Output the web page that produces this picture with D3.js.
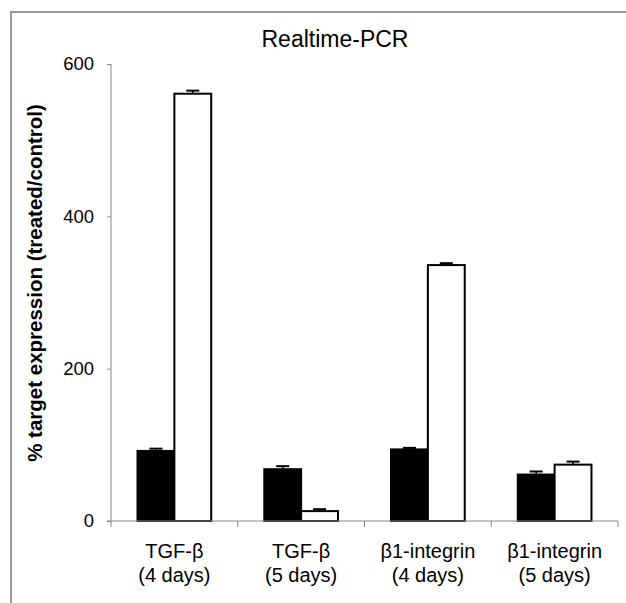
<!DOCTYPE html>
<html lang="en">
	<head>
		<meta charset="utf-8">
		<title>Realtime-PCR</title>
		<script src="https://d3js.org/d3.v7.min.js"></script>
		<style type="text/css">
			body { margin: 0; background: #fff; }
			text { font-family: "Liberation Sans", Arial, Helvetica, sans-serif; fill: #000; }
		</style>
	</head>

	<body>
		<script type="text/javascript">
			// window setup
			var w = 626
			var h = 603

			// data
			var categories = ["TGF-β|(4 days)", "TGF-β|(5 days)", "β1-integrin|(4 days)", "β1-integrin|(5 days)"]
			var series = ["black", "white"]
			var blackValues = [92, 68, 94, 61]
			var blackErrors = [3, 4, 2, 4]
			var whiteValues = [561, 13, 336, 74]
			var whiteErrors = [4, 2.5, 2.5, 4]
			var yTicks = [0, 200, 400, 600]

			// rows for drawing
			var rows = []
			categories.forEach(function(c, i) {
				rows.push({ cat: c, s: "black", v: blackValues[i], e: blackErrors[i] })
				rows.push({ cat: c, s: "white", v: whiteValues[i], e: whiteErrors[i] })
			})

			var svg = d3.select("body")
						.append("svg")
						.attr("width", w)
						.attr("height", h)

			// grey frame around the figure (runs off the right and bottom)
			svg.append("rect")
				.attr("x", 11).attr("y", 12)
				.attr("width", 640).attr("height", 620)
				.style("fill", "none")
				.style("stroke", "#999")
				.style("stroke-width", 2)

			// scales
			var x0 = d3.scaleBand().domain(categories).range([111, 618]).padding(0)
			var x1 = d3.scaleBand().domain(series).range([0, x0.bandwidth()]).paddingInner(0).paddingOuter(0.72)
			var y = d3.scaleLinear().domain([0, 600]).range([521, 64])

			// bars
			svg.selectAll("rect.bar")
				.data(rows)
				.enter()
				.append("rect")
				.attr("class", "bar")
				.attr("x", function(d) { return x0(d.cat) + x1(d.s) })
				.attr("y", function(d) { return y(d.v) })
				.attr("width", x1.bandwidth())
				.attr("height", function(d) { return y(0) - y(d.v) })
				.style("fill", function(d) { return d.s == "black" ? "#000" : "#fff" })
				.style("stroke", "#000")
				.style("stroke-width", 2)

			// error bars (upper only)
			var err = svg.selectAll("g.err")
						.data(rows)
						.enter()
						.append("g")
						.attr("class", "err")
						.attr("transform", function(d) { return "translate(" + (x0(d.cat) + x1(d.s) + x1.bandwidth() / 2) + ",0)" })

			err.append("line")
				.attr("x1", 0).attr("x2", 0)
				.attr("y1", function(d) { return y(d.v) })
				.attr("y2", function(d) { return y(d.v + d.e) })
				.style("stroke", "#000")
				.style("stroke-width", 1.5)

			err.append("line")
				.attr("x1", -6.5).attr("x2", 6.5)
				.attr("y1", function(d) { return y(d.v + d.e) })
				.attr("y2", function(d) { return y(d.v + d.e) })
				.style("stroke", "#000")
				.style("stroke-width", 2)

			// y axis
			var yAxis = d3.axisLeft(y).tickValues(yTicks).tickSize(4).tickPadding(13)
			var gy = svg.append("g").attr("transform", "translate(111,0)").call(yAxis)
			gy.select(".domain").style("stroke", "#888").attr("d", "M0," + y(600) + "V" + y(0))
			gy.selectAll(".tick line").style("stroke", "#888")
			gy.selectAll(".tick text")
				.style("font-size", "18.5px")
				.style("font-family", "'Liberation Sans', Arial, sans-serif")
				.style("fill", "#000")

			// x axis: ticks at category boundaries
			var gx = svg.append("g").attr("transform", "translate(0," + y(0) + ")")
			gx.append("line")
				.attr("x1", 107).attr("x2", 618)
				.style("stroke", "#888")
			var bounds = categories.map(function(c) { return x0(c) }).concat([x0.range()[1]])
			gx.selectAll("line.tk")
				.data(bounds)
				.enter()
				.append("line")
				.attr("class", "tk")
				.attr("x1", function(d) { return d }).attr("x2", function(d) { return d })
				.attr("y1", 0).attr("y2", 6)
				.style("stroke", "#888")

			// category labels, two lines each
			var lab = svg.selectAll("text.cat")
						.data(categories)
						.enter()
						.append("text")
						.attr("class", "cat")
						.attr("text-anchor", "middle")
						.style("font-size", "20px")
			lab.append("tspan")
				.attr("x", function(d) { return x0(d) + x0.bandwidth() / 2 })
				.attr("y", 558)
				.text(function(d) { return d.split("|")[0] })
			lab.append("tspan")
				.attr("x", function(d) { return x0(d) + x0.bandwidth() / 2 })
				.attr("y", 582)
				.text(function(d) { return d.split("|")[1] })

			// title
			svg.append("text")
				.attr("x", 335).attr("y", 47)
				.attr("text-anchor", "middle")
				.style("font-size", "23px")
				.text("Realtime-PCR")

			// y label
			svg.append("text")
				.attr("transform", "translate(42,283) rotate(-90)")
				.attr("text-anchor", "middle")
				.style("font-size", "20.5px")
				.style("font-weight", "bold")
				.text("% target expression (treated/control)")
		</script>
	</body>
</html>
